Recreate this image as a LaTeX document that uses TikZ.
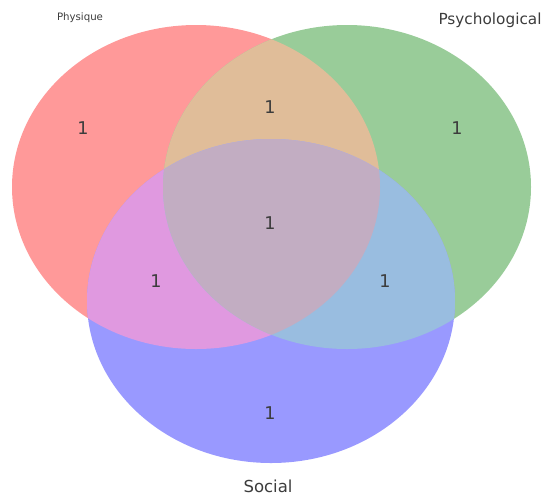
\documentclass[tikz,border=0pt]{standalone}
\usepackage{fontspec}
\setmainfont{DejaVu Sans}

\definecolor{onlyR}{RGB}{255,153,153}
\definecolor{onlyG}{RGB}{153,204,153}
\definecolor{onlyB}{RGB}{153,153,255}
\definecolor{mixRG}{RGB}{224,189,153}
\definecolor{mixRB}{RGB}{224,153,224}
\definecolor{mixGB}{RGB}{153,189,224}
\definecolor{mixRGB}{RGB}{194,173,194}
\definecolor{txt}{RGB}{60,60,60}

\def\setR{(196,-187) ellipse [x radius=184, y radius=162]}
\def\setG{(347,-187) ellipse [x radius=184, y radius=162]}
\def\setB{(271,-301) ellipse [x radius=184, y radius=162]}

\begin{document}
\begin{tikzpicture}[x=0.02cm, y=0.02cm,
    count/.style={text=txt, font=\fontsize{10}{12}\selectfont},
    setlabel/.style={text=txt}]
            \useasboundingbox (0,0) rectangle (544,-495);

            \fill[onlyR] \setR;
            \fill[onlyG] \setG;
            \fill[onlyB] \setB;
            \begin{scope}
                \clip \setR;
                \fill[mixRG] \setG;
                \fill[mixRB] \setB;
            \end{scope}
            \begin{scope}
                \clip \setG;
                \fill[mixGB] \setB;
                \clip \setR;
                \fill[mixRGB] \setB;
            \end{scope}

            \node[count] (r) at (83,-128) {1};
            \node[count] (g) at (457,-128) {1};
            \node[count] (rg) at (270,-107) {1};
            \node[count] (rgb) at (270,-223) {1};
            \node[count] (rb) at (156,-281) {1};
            \node[count] (gb) at (385,-281) {1};
            \node[count] (b) at (270,-413) {1};

            \node[setlabel, font=\fontsize{5.8}{7}\selectfont] (physique) at (80,-18) {Physique};
            \node[setlabel, font=\fontsize{8.7}{10}\selectfont] (psycho) at (490,-20) {Psychological};
            \node[setlabel, font=\fontsize{9.4}{11}\selectfont] (social) at (268,-486) {Social};
        \end{tikzpicture}
\end{document}
